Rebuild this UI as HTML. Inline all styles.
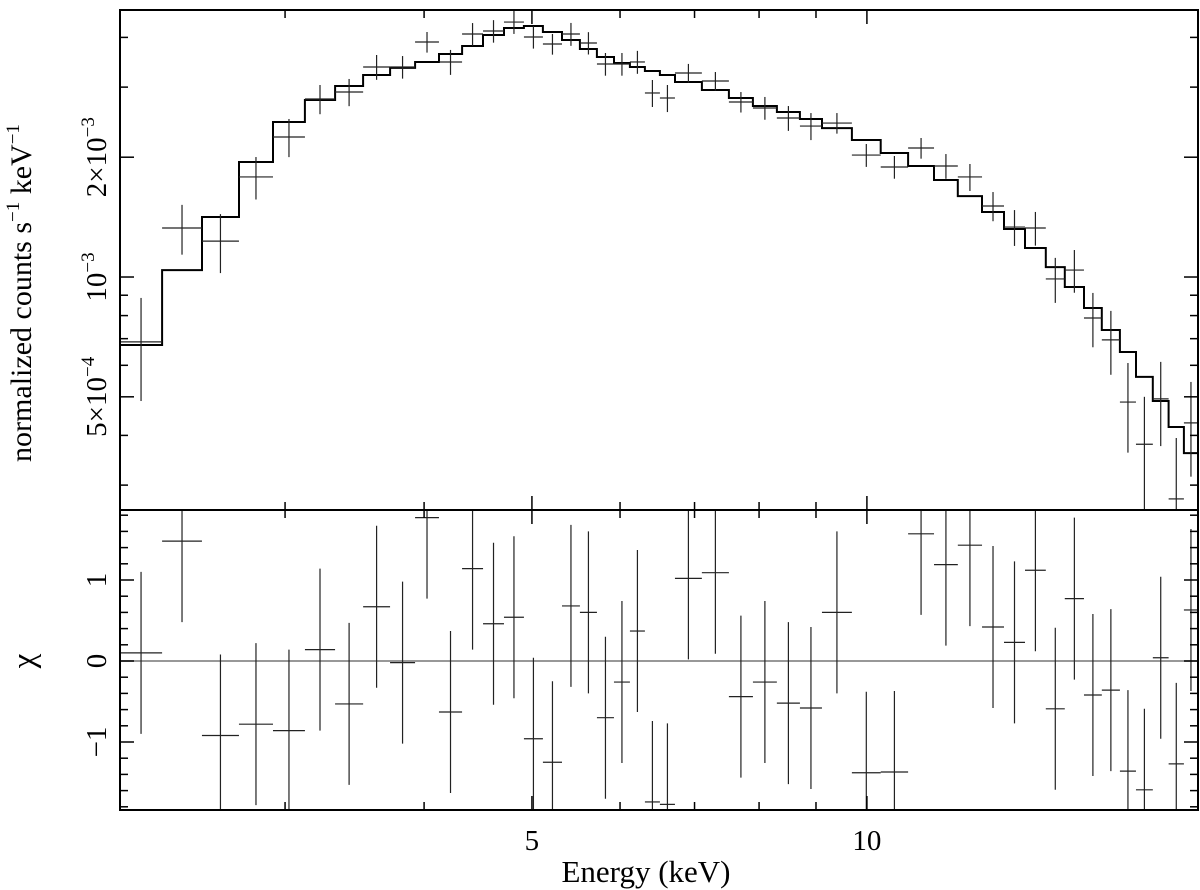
<!DOCTYPE html>
<html><head><meta charset="utf-8"><style>
html,body{margin:0;padding:0;background:#fff}
svg{display:block}
text{font-family:"Liberation Serif",serif;fill:#000}
</style></head><body>
<svg id="chart" width="1200" height="890" viewBox="0 0 1200 890" xmlns="http://www.w3.org/2000/svg">
<defs>
<clipPath id="clipTop"><rect x="120" y="10" width="1078" height="500"/></clipPath>
<clipPath id="clipBot"><rect x="120" y="510" width="1078" height="300"/></clipPath>
</defs>
<g id="marks"></g>
<g id="axes"></g>
<text transform="translate(31,293) rotate(-90)" text-anchor="middle" font-size="30">normalized counts s<tspan font-size="19" dy="-12">−1</tspan><tspan dy="12"> keV</tspan><tspan font-size="19" dy="-12">−1</tspan></text>
<text transform="translate(34,661) rotate(-90)" text-anchor="middle" font-size="33">χ</text>
<text x="646" y="882" text-anchor="middle" font-size="31">Energy (keV)</text>
</svg>
<script>
// Data: energy bin edges (keV), observed counts (1e-3 counts/s/keV), errors, model, residuals
const energyEdges=[2.132,2.326,2.526,2.727,2.926,3.126,3.327,3.526,3.728,3.926,4.125,4.327,4.519,4.719,4.918,5.115,5.321,5.522,5.720,5.925,6.124,6.317,6.516,6.722,7.107,7.516,7.899,8.300,8.706,9.112,9.694,10.29,10.89,11.49,12.07,12.69,13.28,13.87,14.48,15.06,15.67,16.26,16.88,17.45,18.07,18.67,19.27,19.84];
const dataCounts=[0.687,1.328,1.231,1.784,2.248,2.801,2.916,3.371,3.371,3.895,3.470,4.079,4.150,4.371,4.009,3.850,4.079,3.873,3.430,3.430,3.470,2.900,2.817,3.256,3.108,2.753,2.659,2.509,2.395,2.437,2.025,1.890,2.109,1.901,1.784,1.508,1.335,1.328,0.989,1.041,0.789,0.695,0.485,0.380,0.494,0.277,0.430];
const dataErr=[0.199,0.19,0.208,0.218,0.247,0.236,0.229,0.242,0.22,0.232,0.25,0.267,0.27,0.29,0.26,0.23,0.27,0.25,0.225,0.225,0.23,0.226,0.22,0.175,0.166,0.163,0.175,0.18,0.187,0.145,0.134,0.124,0.126,0.136,0.139,0.127,0.138,0.129,0.128,0.128,0.123,0.127,0.123,0.12,0.118,0.117,0.115];
const modelCounts=[0.675,1.041,1.415,1.945,2.452,2.785,3.019,3.218,3.352,3.470,3.634,3.806,4.055,4.223,4.272,4.127,3.940,3.741,3.571,3.450,3.371,3.294,3.218,3.090,2.950,2.817,2.690,2.598,2.495,2.367,2.209,2.049,1.901,1.753,1.597,1.457,1.320,1.183,1.059,0.944,0.836,0.736,0.648,0.561,0.488,0.420,0.361];
const chiValues=[0.1,1.48,-0.92,-0.78,-0.86,0.14,-0.53,0.67,-0.02,1.77,-0.63,1.14,0.46,0.54,-0.96,-1.25,0.68,0.6,-0.7,-0.26,0.37,-1.74,-1.77,1.02,1.09,-0.44,-0.26,-0.52,-0.58,0.6,-1.38,-1.37,1.57,1.19,1.43,0.42,0.23,1.12,-0.59,0.77,-0.42,-0.36,-1.36,-1.59,0.04,-1.27,0.63];
const countTicksMajor=[1e-3,2e-3,5e-4];
const countTickLabels=[["10","−3"],["2×10","−3"],["5×10","−4"]];
const countTicksMinor=[3e-4,4e-4,6e-4,7e-4,8e-4,9e-4,3e-3,4e-3];
const energyTicksMajor=[5,10];
const energyTickLabels=["5","10"];
const energyTicksMinor=[3,4,6,7,8,9];
const chiTicksMajor=[-1,0,1];
const chiTickLabels=["−1","0","1"];
const chiTicksMinor=[-1.8,-1.6,-1.4,-1.2,-0.8,-0.6,-0.4,-0.2,0.2,0.4,0.6,0.8,1.2,1.4,1.6,1.8];
const UNIT=1e-3;

const X0=120,X1=1198,TT=10,TB=510,BB=810;
const EMIN=energyEdges[0],EMAX=energyEdges[energyEdges.length-1];
const LYMIN=-3.5854,LYMAX=-2.3291;
function xs(e){return X0+(Math.log10(e)-Math.log10(EMIN))/(Math.log10(EMAX)-Math.log10(EMIN))*(X1-X0);}
function ys(v){return TB-(Math.log10(v)-LYMIN)/(LYMAX-LYMIN)*(TB-TT);}
function yc(c){return 661-c*81;}
const NS="http://www.w3.org/2000/svg";
function mk(tag,attrs,parent){const el=document.createElementNS(NS,tag);for(const k in attrs)el.setAttribute(k,attrs[k]);parent.appendChild(el);return el;}
const marks=document.getElementById('marks');
const axes=document.getElementById('axes');

const gTop=mk('g',{'clip-path':'url(#clipTop)'},marks);


const gBot=mk('g',{'clip-path':'url(#clipBot)'},marks);



const zl=mk('line',{x1:X0,x2:X1,y1:yc(0),y2:yc(0),stroke:'#777','stroke-width':1.5},gBot);



let d='';
for(let i=0;i<modelCounts.length;i++){
  const xa=xs(energyEdges[i]),xb=xs(energyEdges[i+1]),y=ys(modelCounts[i]*UNIT);
  d+=(i===0?'M':'L')+xa.toFixed(1)+','+y.toFixed(1)+'L'+xb.toFixed(1)+','+y.toFixed(1);
}
const mp=mk('path',{d:d,fill:'none',stroke:'#000','stroke-width':2},gTop);



for(let i=0;i<dataCounts.length;i++){
  const xa=xs(energyEdges[i]),xb=xs(energyEdges[i+1]);
  const xm=xs(Math.sqrt(energyEdges[i]*energyEdges[i+1]));
  const v=dataCounts[i]*UNIT,e=dataErr[i]*UNIT;
  const lo=Math.max(v-e,1e-6);
  const g=mk('g',{stroke:'#222','stroke-width':1.2},gTop);
  
  
  mk('line',{x1:xa,x2:xb,y1:ys(v),y2:ys(v)},g);
  mk('line',{x1:xm,x2:xm,y1:ys(v+e),y2:ys(lo)},g);
  const r=mk('g',{stroke:'#222','stroke-width':1.2},gBot);
  
  
  const c=chiValues[i];
  mk('line',{x1:xa,x2:xb,y1:yc(c),y2:yc(c)},r);
  mk('line',{x1:xm,x2:xm,y1:yc(c+1),y2:yc(c-1)},r);
}

const f1=mk('rect',{x:X0,y:TT,width:X1-X0,height:TB-TT,fill:'none',stroke:'#000','stroke-width':2},axes);


const f2=mk('rect',{x:X0,y:TB,width:X1-X0,height:BB-TB,fill:'none',stroke:'#000','stroke-width':2},axes);



function tickLine(x1,y1,x2,y2,w){const t=mk('line',{x1:x1,y1:y1,x2:x2,y2:y2,stroke:'#000','stroke-width':w||1.5},axes);}
[[TT,1],[TB,-1],[TB,1],[BB,-1]].forEach(([y,dir])=>{
  energyTicksMajor.forEach(e=>tickLine(xs(e),y,xs(e),y+dir*14));
  energyTicksMinor.forEach(e=>tickLine(xs(e),y,xs(e),y+dir*8));
});
countTicksMajor.forEach(v=>{tickLine(X0,ys(v),X0+14,ys(v));tickLine(X1,ys(v),X1-14,ys(v));});
countTicksMinor.forEach(v=>{tickLine(X0,ys(v),X0+8,ys(v));tickLine(X1,ys(v),X1-8,ys(v));});
chiTicksMajor.forEach(v=>{tickLine(X0,yc(v),X0+14,yc(v));tickLine(X1,yc(v),X1-14,yc(v));});
chiTicksMinor.forEach(v=>{tickLine(X0,yc(v),X0+8,yc(v));tickLine(X1,yc(v),X1-8,yc(v));});

energyTicksMajor.forEach((e,i)=>{
  const t=mk('text',{x:xs(e),y:850,'text-anchor':'middle','font-size':29},axes);
  
  
  t.textContent=energyTickLabels[i];
});
countTicksMajor.forEach((v,i)=>{
  const t=mk('text',{transform:'translate(106,'+ys(v).toFixed(1)+') rotate(-90)','text-anchor':'middle','font-size':29},axes);
  
  
  const a=mk('tspan',{},t);a.textContent=countTickLabels[i][0];
  const b=mk('tspan',{dy:-12,'font-size':19},t);b.textContent=countTickLabels[i][1];
});
chiTicksMajor.forEach((v,i)=>{
  const t=mk('text',{transform:'translate(106,'+yc(v).toFixed(1)+') rotate(-90)','text-anchor':'middle','font-size':29},axes);
  
  
  t.textContent=chiTickLabels[i];
});
</script>
</body></html>
